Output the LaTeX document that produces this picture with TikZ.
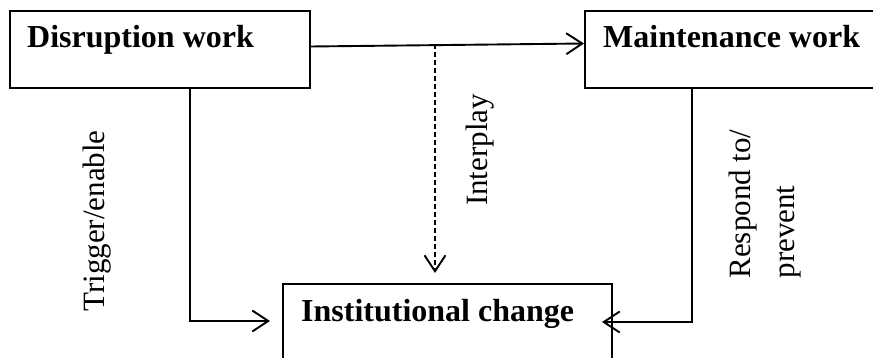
\documentclass[tikz,border=0pt]{standalone}
\usepackage{fontspec}
\setmainfont{Liberation Serif}
\usetikzlibrary{arrows.meta,calc}
\begin{document}
\begin{tikzpicture}[x=1pt,y=-1pt,
  box/.style={draw,line width=2pt,inner sep=0pt,anchor=north west},
  title/.style={font=\fontsize{32}{36}\selectfont\bfseries,anchor=base west,inner sep=0pt},
  lab/.style={font=\fontsize{31}{44}\selectfont,rotate=90,inner sep=0pt},
  link/.style={line width=1.9pt,-{Straight Barb[length=16pt,width=21pt]}},
]
\useasboundingbox (0,0) rectangle (873,358);
\clip (0,0) rectangle (873,358);

% boxes
\node[box,minimum width=300pt,minimum height=77pt] (disrupt) at (9,10) {};
\node[box,minimum width=310pt,minimum height=77pt] (maint) at (584,10) {};
\node[box,minimum width=329pt,minimum height=100pt] (inst) at (282,283) {};

% box titles
\node[title] (dtext) at (27,48) {Disruption work};
\node[title] (mtext) at (603,48) {Maintenance work};
\node[title] (itext) at (301,321) {Institutional change};

% connector labels
\node[lab] (trig) at (97,221) {Trigger/enable};
\node[lab] (inter) at (480,150) {Interplay};
\node[lab,align=left] (resp) at (765,204) {Respond to/\\prevent};

% connectors
\coordinate (split) at (435,44.1);
\draw[link] ($(disrupt.east)+(0,-3)$) -- ($(maint.west)+(0,-6)$);
\draw[link,dash pattern=on 5pt off 3pt] (split) -- ($(split |- inst.north)+(0,-10)$);
\draw[link] ($(disrupt.south west)+(181,0)$) |- ($(inst.north west)+(-12,38)$);
\draw[link] ($(maint.south west)+(108,0)$) |- ($(inst.north east)+(-11,39)$);
\end{tikzpicture}
\end{document}
